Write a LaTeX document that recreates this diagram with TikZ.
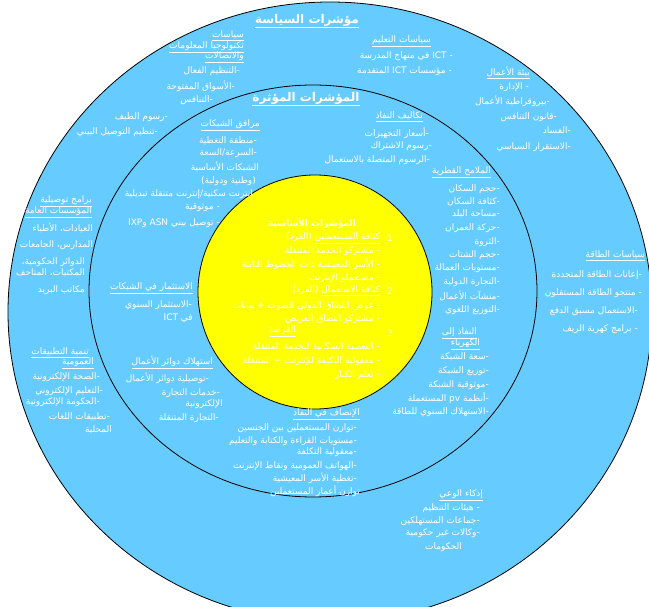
\documentclass[tikz,border=0pt]{standalone}
\usepackage{fontspec}
\usepackage{xcolor}
\usepackage{tikz}
\newfontfamily\arabicfont[Script=Arabic]{DejaVu Sans}
\TeXXeTstate=1
\definecolor{RingBlue}{HTML}{66CCFF}
\definecolor{CoreYellow}{HTML}{FFFF00}
\newcommand{\artxt}[1]{\beginR #1\endR}
\newcommand{\arul}[1]{\underline{\beginR #1\endR}}
\tikzset{
  item/.style={anchor=east,inner sep=0pt,text=white,font=\arabicfont\fontsize{9}{10}\selectfont},
  bigtitle/.style={inner sep=0pt,text=white,font=\arabicfont\bfseries\fontsize{12}{14}\selectfont},
  coretitle/.style={inner sep=0pt,text=white,font=\arabicfont\bfseries\fontsize{9}{10}\selectfont}
}

\begin{document}
\begin{tikzpicture}[x=1pt,y=-1pt]
\path[use as bounding box] (0,0) rectangle (649,607);
\clip (0,0) rectangle (649,607);
\fill[white] (0,0) rectangle (649,607);
\draw[fill=RingBlue,line width=.8pt] (330,312) ellipse [x radius=322,y radius=310];
\draw[fill=RingBlue,line width=.8pt] (313,291) ellipse [x radius=224,y radius=206];
\draw[fill=CoreYellow,line width=.8pt] (315,292) circle [radius=117];
% titles
\node[bigtitle] (polTitle) at (307,21) {\arul{مؤشرات السياسة}};
\node[bigtitle] (effTitle) at (306,99) {\arul{المؤشرات المؤثرة}};
% ICT policy
\node[item] (ictA) at (244,36) {\arul{سياسات}};
\node[item] (ictB) at (244,47) {\arul{تكنولوجيا المعلومات}};
\node[item] (ictC) at (244,57) {\arul{والاتصالات}};
\node[item] (ictD) at (240,71) {\artxt{-التنظيم الفعال}};
\node[item] (ictE) at (235,86) {\artxt{-الأسواق المفتوحة}};
\node[item] (ictF) at (213,100) {\artxt{-التنافس}};
\node[item] (spcA) at (168,117) {\artxt{-رسوم الطيف}};
\node[item] (spcB) at (158,132) {\artxt{-تنظيم التوصيل البيني}};
% education
\node[item] (eduH) at (431,41) {\arul{سياسات التعليم}};
\node[item] (eduA) at (453,56) {\artxt{- ICT في منهاج المدرسة}};
\node[item] (eduB) at (452,71) {\artxt{- مؤسسات ICT المتقدمة}};
% business environment
\node[item] (busH) at (530,73) {\arul{بيئة الأعمال}};
\node[item] (busA) at (529,87) {\artxt{- الإدارة}};
\node[item] (busB) at (550,101) {\artxt{-بيروقراطية الأعمال}};
\node[item] (busC) at (557,117) {\artxt{-قانون التنافس}};
\node[item] (busD) at (571,130) {\artxt{-الفساد}};
\node[item] (busE) at (571,147) {\artxt{-الاستقرار السياسي}};
% access costs
\node[item] (costH) at (423,117) {\arul{تكاليف النفاذ}};
\node[item] (costA) at (429,133) {\artxt{-أسعار التجهيزات}};
\node[item] (costB) at (432,146) {\artxt{-رسوم الاشتراك}};
\node[item] (costC) at (430,160) {\artxt{-الرسوم المتصلة بالاستعمال}};
% network facilities
\node[item] (netH) at (260,125) {\arul{مرافق الشبكات}};
\node[item] (netA) at (257,141) {\artxt{-منطقة التغطية}};
\node[item] (netB) at (257,153) {\artxt{-السرعة/السعة}};
\node[item] (netC) at (259,167) {\artxt{الشبكات الأساسية}};
\node[item] (netD) at (256,181) {\artxt{(وطنية ودولية)}};
\node[item] (netE) at (253,194) {\artxt{إنترنت سكنية/إنترنت متنقلة تبديلية}};
\node[item] (netF) at (220,208) {\artxt{- موثوقية}};
\node[item] (netG) at (220,223) {\artxt{- توصيل بيني ASN وIXP}};
% country profile
\node[item] (ctryH) at (491,172) {\arul{الملامح القطرية}};
\node[item] (ctryA) at (500,189) {\artxt{-حجم السكان}};
\node[item] (ctryB) at (500,202) {\artxt{-كثافة السكان}};
\node[item] (ctryC) at (500,214) {\artxt{-مساحة البلد}};
\node[item] (ctryD) at (500,228) {\artxt{-حركة العمران}};
\node[item] (ctryE) at (500,242) {\artxt{-الثروة}};
\node[item] (ctryF) at (500,255) {\artxt{-حجم الشتات}};
\node[item] (ctryG) at (500,268) {\artxt{-مستويات العمالة}};
\node[item] (ctryH2) at (500,282) {\artxt{-التجارة الدولية}};
\node[item] (ctryI) at (500,296) {\artxt{-منشآت الأعمال}};
\node[item] (ctryJ) at (500,310) {\artxt{-التوزيع اللغوي}};
% energy policy
\node[item] (enH) at (645,256) {\arul{سياسات الطاقة}};
\node[item] (enA) at (642,275) {\artxt{-إعانات الطاقة المتجددة}};
\node[item] (enB) at (642,293) {\artxt{- منتجو الطاقة المستقلون}};
\node[item] (enC) at (638,311) {\artxt{-الاستعمال مسبق الدفع}};
\node[item] (enD) at (638,329) {\artxt{- برامج كهربة الريف}};
% public institutions
\node[item] (pubH1) at (92,201) {\arul{برامج توصيلية}};
\node[item] (pubH2) at (92,212) {\arul{المؤسسات العامة}};
\node[item] (pubA) at (93,228) {\artxt{العيادات، الأطباء}};
\node[item] (pubB) at (93,245) {\artxt{المدارس، الجامعات}};
\node[item] (pubC) at (85,262) {\artxt{الدوائر الحكومية،}};
\node[item] (pubD) at (85,273) {\artxt{المكتبات، المتاحف}};
\node[item] (pubE) at (85,290) {\artxt{مكاتب البريد}};
% investment
\node[item] (invH) at (193,288) {\arul{الاستثمار في الشبكات}};
\node[item] (invA) at (192,305) {\artxt{-الاستثمار السنوي}};
\node[item] (invB) at (193,318) {\artxt{في ICT}};
% public applications
\node[item] (appH1) at (89,353) {\arul{تنمية التطبيقات}};
\node[item] (appH2) at (94,363) {\arul{العمومية}};
\node[item] (appA) at (100,377) {\artxt{-الصحة الإلكترونية}};
\node[item] (appB) at (103,391) {\artxt{-التعليم الإلكتروني}};
\node[item] (appC) at (100,402) {\artxt{-الحكومة الإلكترونية}};
\node[item] (appD) at (110,417) {\artxt{-تطبيقات اللغات}};
\node[item] (appE) at (112,430) {\artxt{المحلية}};
% business consumption
\node[item] (bizH) at (213,362) {\arul{استهلاك دوائر الأعمال}};
\node[item] (bizA) at (209,378) {\artxt{-توصيلية دوائر الأعمال}};
\node[item] (bizB) at (220,393) {\artxt{-خدمات التجارة}};
\node[item] (bizC) at (223,404) {\artxt{الإلكترونية}};
\node[item] (bizD) at (219,418) {\artxt{-التجارة المتنقلة}};
% equity of access
\node[item] (eqH) at (360,414) {\arul{الإنصاف في النفاذ}};
\node[item] (eqA) at (357,428) {\artxt{-توازن المستعملين بين الجنسين}};
\node[item] (eqB) at (357,441) {\artxt{-مستويات القراءة والكتابة والتعليم}};
\node[item] (eqC) at (357,452) {\artxt{-معقولية التكلفة}};
\node[item] (eqD) at (357,466) {\artxt{-الهواتف العمومية ونقاط الإنترنت}};
\node[item] (eqE) at (357,478) {\artxt{-تغطية الأسر المعيشية}};
\node[item] (eqF) at (360,491) {\artxt{توازن أعمار المستعملين}};
% electricity access
\node[item] (elH1) at (477,333) {\arul{النفاذ إلى}};
\node[item] (elH2) at (480,344) {\arul{الكهرباء}};
\node[item] (elA) at (489,357) {\artxt{-سعة الشبكة}};
\node[item] (elB) at (489,371) {\artxt{-توزيع الشبكة}};
\node[item] (elC) at (489,385) {\artxt{-موثوقية الشبكة}};
\node[item] (elD) at (489,398) {\artxt{-أنظمة pv المستعملة}};
\node[item] (elE) at (489,412) {\artxt{-الاستهلاك السنوي للطاقة}};
% awareness
\node[item] (awH) at (483,495) {\arul{إذكاء الوعي}};
\node[item] (awA) at (480,508) {\artxt{- هيئات التنظيم}};
\node[item] (awB) at (480,521) {\artxt{-جماعات المستهلكين}};
\node[item] (awC) at (480,533) {\artxt{-وكالات غير حكومية}};
\node[item] (awD) at (462,547) {\artxt{الحكومات}};
% core indicators
\node[coretitle] (coreH) at (312,223) {\artxt{المؤشرات الأساسية}};
\node[item] (c1n) at (393,238) {1.};
\node[item] (c1) at (380,238) {\artxt{\arul{كثافة المستعملين} (الفرد)}};
\node[item] (c1a) at (380,251) {\artxt{- مشتركو الخدمة المتنقلة}};
\node[item] (c1b) at (380,264) {\artxt{- الأسر المعيشية ذات الخطوط الثابتة}};
\node[item] (c1c) at (380,278) {\artxt{- مستعملو الإنترنت}};
\node[item] (c2n) at (393,291) {2.};
\node[item] (c2) at (380,291) {\artxt{\arul{كثافة الاستعمال} (الفرد)}};
\node[item] (c2a) at (380,306) {\artxt{- عرض النطاق الدولي للصوت + بيانات}};
\node[item] (c2b) at (380,319) {\artxt{- مشتركو النطاق العريض}};
\node[item] (c3n) at (393,333) {3.};
\node[item] (c3) at (296,331) {\arul{الفرصة}};
\node[item] (c3a) at (380,347) {\artxt{- التغطية السكانية للخدمة المتنقلة}};
\node[item] (c3b) at (380,361) {\artxt{- معقولية التكلفة للإنترنت + المتنقلة}};
\node[item] (c3c) at (380,375) {\artxt{- تعلم الكبار}};
\end{tikzpicture}
\end{document}
